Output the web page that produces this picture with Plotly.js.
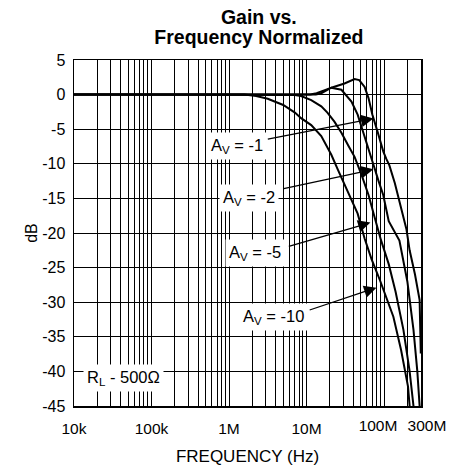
<!DOCTYPE html>
<html>
<head>
<meta charset="utf-8">
<script src="https://cdn.plot.ly/plotly-3.0.1.min.js"></script>
<style>html,body{margin:0;padding:0;background:#fff;}</style>
</head>
<body>
<div id="chart" style="width:451px;height:470px;"></div>
<script>
// Frequencies in Hz, gains in dB
const freqA = [1e4, 1e6, 1e7, 1.32e7, 1.55e7, 2.09e7, 3.09e7, 4.17e7, 4.79e7, 5.62e7, 6.31e7, 7.08e7, 8.32e7, 9.77e7, 1.07e8, 1.17e8, 1.38e8, 1.66e8, 1.95e8, 2.14e8, 2.51e8, 2.88e8, 2.98e8];
const gainA = [0, 0, 0, 0, 0.2, 1.0, 1.6, 2.25, 2.1, 1.1, -0.5, -2.9, -5.5, -8.2, -9.3, -10.2, -12.8, -16.3, -19.5, -22.5, -26, -29.7, -37.4];

const freqB = [1e4, 1e6, 1.12e7, 1.35e7, 2.09e7, 2.82e7, 3.8e7, 4.57e7, 5.37e7, 6.31e7, 7.24e7, 8.51e7, 9.77e7, 1.15e8, 1.58e8, 2.0e8, 2.4e8, 2.69e8, 2.88e8];
const gainB = [0, 0, 0, 0.2, 1.0, 0.7, -1.0, -2.9, -5.3, -7.7, -10.0, -12.5, -14.5, -18.3, -21.1, -27, -34, -40, -45];

const freqC = [1e4, 1e6, 3.16e6, 7.08e6, 8.5e6, 1.15e7, 1.55e7, 1.86e7, 2.29e7, 2.82e7, 3.47e7, 4.17e7, 5.13e7, 6.31e7, 7.59e7, 9.12e7, 1.15e8, 1.41e8, 1.78e8, 2.14e8, 2.4e8];
const gainC = [0, 0, 0, -0.05, -0.2, -0.8, -1.7, -2.6, -3.9, -5.5, -7.4, -9.0, -11.6, -14.5, -17.8, -21, -24.5, -28.5, -34, -40, -45];

const freqD = [1e4, 1e6, 1.58e6, 2.24e6, 3.16e6, 5.01e6, 7.08e6, 8.51e6, 1.15e7, 1.55e7, 2.09e7, 2.57e7, 3.09e7, 3.8e7, 4.57e7, 5.62e7, 6.92e7, 8.91e7, 1.07e8, 1.32e8, 1.66e8, 2.04e8, 2.14e8];
const gainD = [0, 0, 0, -0.2, -0.6, -1.5, -2.6, -3.4, -4.4, -6.0, -8.7, -11, -13, -15, -17.2, -20.8, -23.8, -26.9, -29.3, -32.1, -36.9, -42.2, -45];

const xTickVals = [1e4, 1e5, 1e6, 1e7];
const xTickText = ['10k', '100k', '1M', '10M'];
const xTickVals2 = [1e8];
const xTickText2 = ['100M'];
const xTickVals3 = [3e8];
const xTickText3 = ['300M'];
const yTickVals = [5, 0, -5, -10, -15, -20, -25, -30, -35, -40, -45];
const yTickText = ['5', '0', '-5', '-10', '-15', '-20', '-25', '-30', '-35', '-40', '-45'];

const labels = ['A<sub>V</sub> = -1', 'A<sub>V</sub> = -2', 'A<sub>V</sub> = -5', 'A<sub>V</sub> = -10'];
const labelPos = [[1.28e6, -7.47], [1.82e6, -14.94], [2.18e6, -22.84], [3.72e6, -32.18]];
const arrowTip = [[7.3e7, -3.45], [7.3e7, -10.8], [6.67e7, -18.5], [7.98e7, -27.9]];
const arrowTail = [[3.03e6, -6.47], [4.86e6, -13.65], [5.65e6, -22.0], [1.05e7, -31.2]];
const loadLabel = 'R<sub>L</sub> - 500Ω';
const loadPos = [4.3e4, -40.95];

// grid at 2..10 of every decade (1e8 included)
const minorVals = [];
for (let d = 4; d <= 8; d++) {
  for (let m = 2; m <= 10; m++) {
    const v = m * Math.pow(10, d);
    if (v < 2.99e8) minorVals.push(v);
  }
}

const xRange = [4, Math.log10(3e8)];
const lineStyle = {color: '#000', width: 2};
const traces = [
  {x: freqD, y: gainD, mode: 'lines', line: lineStyle, name: labels[3], hoverinfo: 'skip'},
  {x: freqC, y: gainC, mode: 'lines', line: lineStyle, name: labels[2], hoverinfo: 'skip'},
  {x: freqB, y: gainB, mode: 'lines', line: lineStyle, name: labels[1], hoverinfo: 'skip'},
  {x: freqA, y: gainA, mode: 'lines', line: lineStyle, name: labels[0], hoverinfo: 'skip'},
  {x: [], y: [], xaxis: 'x2', mode: 'lines', hoverinfo: 'skip'},
  {x: [], y: [], xaxis: 'x3', mode: 'lines', hoverinfo: 'skip'}
];

const font = {family: '"Liberation Sans", Arial, sans-serif', color: '#000'};
const annotations = [];
for (let i = 0; i < labels.length; i++) {
  annotations.push({
    xref: 'x', yref: 'y', axref: 'x', ayref: 'y',
    x: Math.log10(arrowTip[i][0]), y: arrowTip[i][1],
    ax: Math.log10(arrowTail[i][0]), ay: arrowTail[i][1],
    text: '', showarrow: true, arrowhead: 2, arrowsize: 1.9, arrowwidth: 1.3, arrowcolor: '#000', standoff: 0
  });
}
for (let i = 0; i < labels.length; i++) {
  annotations.push({
    xref: 'x', yref: 'y', x: Math.log10(labelPos[i][0]), y: labelPos[i][1],
    text: labels[i], showarrow: false, bgcolor: '#fff', borderpad: 3,
    font: Object.assign({size: 16.5}, font)
  });
}
annotations.push({
  xref: 'x', yref: 'y', x: Math.log10(loadPos[0]), y: loadPos[1],
  text: loadLabel, showarrow: false, bgcolor: '#fff', borderpad: 3,
  font: Object.assign({size: 16.5}, font)
});

const tickFont = Object.assign({size: 15.5}, font);
const extraAxis = (vals, text, shift) => ({
  type: 'log', range: xRange, overlaying: 'x', anchor: 'y', side: 'bottom',
  tickmode: 'array', tickvals: vals, ticktext: text, tickangle: 0,
  showgrid: false, showline: false, zeroline: false, ticks: '',
  ticklabelstandoff: 8, ticklabelshift: shift, tickfont: tickFont
});

const layout = {
  width: 451, height: 470,
  margin: {l: 74, r: 30, t: 60, b: 64},
  paper_bgcolor: '#fff', plot_bgcolor: '#fff',
  showlegend: false,
  font: Object.assign({size: 16}, font),
  title: {
    text: '<b><span style="font-size:19.5px">Gain vs.</span><br><span style="font-size:19.5px">Frequency Normalized</span></b>',
    x: 0.574, xanchor: 'center', xref: 'container',
    y: 0.949, yref: 'container', yanchor: 'top',
    font: Object.assign({size: 15.5}, font)
  },
  xaxis: {
    type: 'log', range: xRange,
    tickmode: 'array', tickvals: xTickVals, ticktext: xTickText, tickangle: 0,
    showgrid: true, gridcolor: '#000', gridwidth: 1,
    minor: {tickmode: 'array', tickvals: minorVals, showgrid: true, gridcolor: '#000', gridwidth: 1, ticks: ''},
    showline: true, linecolor: '#000', linewidth: 1.5, mirror: true,
    ticks: '', zeroline: false, ticklabelstandoff: 8,
    tickfont: tickFont,
    title: {text: 'FREQUENCY (Hz)', font: Object.assign({size: 17}, font), standoff: 14}
  },
  xaxis2: extraAxis(xTickVals2, xTickText2, -6),
  xaxis3: extraAxis(xTickVals3, xTickText3, 6),
  yaxis: {
    range: [-45, 5],
    tickmode: 'array', tickvals: yTickVals, ticktext: yTickText,
    showgrid: true, gridcolor: '#000', gridwidth: 1,
    showline: true, linecolor: '#000', linewidth: 1.5, mirror: true,
    ticks: '', zeroline: false, ticklabelstandoff: 4,
    tickfont: Object.assign({size: 16}, font),
    title: {text: 'dB', font: Object.assign({size: 16}, font), standoff: 0}
  },
  annotations: annotations
};

Plotly.newPlot('chart', traces, layout, {displayModeBar: false, staticPlot: true});
</script>
</body>
</html>
